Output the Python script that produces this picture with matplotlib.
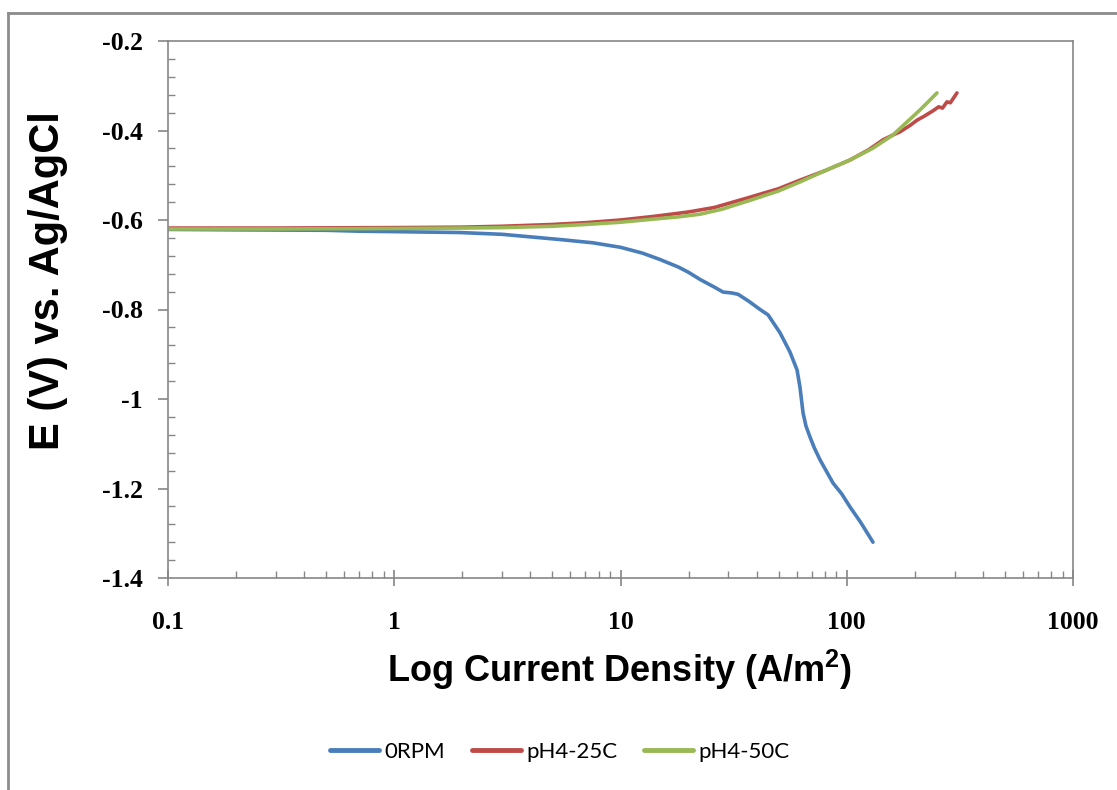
import matplotlib
matplotlib.use("Agg")
import matplotlib.pyplot as plt
from matplotlib.lines import Line2D
from matplotlib.ticker import LogLocator, MultipleLocator, FixedLocator, FuncFormatter

# ---- data ----
labels = ["0RPM", "pH4-25C", "pH4-50C"]

x_0rpm = [0.1, 0.2, 0.5, 0.7, 1.0, 1.95, 3.0, 3.86, 5.5, 7.56, 10, 12.5, 14.9, 18,
          20, 22.5, 26, 28.4, 31, 33.1, 37, 41.4, 44.9, 50.7, 56.1, 60.3, 62.1, 64.1,
          66, 68.8, 72, 76.2, 81, 87.0, 95, 103.3, 115, 130.6]
y_0rpm = [-0.621, -0.622, -0.623, -0.625, -0.626, -0.628, -0.632, -0.637, -0.644,
          -0.651, -0.661, -0.674, -0.688, -0.705, -0.717, -0.733, -0.750, -0.761,
          -0.763, -0.766, -0.782, -0.800, -0.812, -0.852, -0.895, -0.935, -0.973,
          -1.031, -1.06, -1.085, -1.11, -1.136, -1.16, -1.188, -1.212, -1.241,
          -1.275, -1.320]

x_25c = [0.1, 0.3, 1, 2, 3, 5, 7, 10, 14, 20, 26, 37.4, 50, 62.1, 80, 103.3, 125,
         144.5, 160, 171.9, 190, 204.4, 220, 240.4, 255, 265, 277.3, 287, 307]
y_25c = [-0.618, -0.618, -0.617, -0.616, -0.614, -0.610, -0.606, -0.600, -0.592,
         -0.582, -0.572, -0.549, -0.530, -0.511, -0.490, -0.466, -0.443, -0.421,
         -0.410, -0.403, -0.389, -0.377, -0.368, -0.356, -0.347, -0.350, -0.336,
         -0.338, -0.316]

x_50c = [0.1, 0.3, 1, 2, 3, 5, 7, 10, 14, 18, 22.5, 28, 37.4, 50, 62.1, 80, 103.3,
         130, 160, 184.6, 210.8, 230, 250.5]
y_50c = [-0.620, -0.620, -0.619, -0.618, -0.617, -0.614, -0.610, -0.605, -0.598,
         -0.593, -0.587, -0.576, -0.556, -0.535, -0.515, -0.490, -0.466, -0.440,
         -0.410, -0.381, -0.354, -0.335, -0.316]

x_ticks = [0.1, 1, 10, 100, 1000]
x_ticklabels = ["0.1", "1", "10", "100", "1000"]
y_ticks = [-1.4, -1.2, -1.0, -0.8, -0.6, -0.4, -0.2]
y_ticklabels = ["-1.4", "-1.2", "-1", "-0.8", "-0.6", "-0.4", "-0.2"]

colors = ["#4A7EBB", "#BE4B48", "#98B954"]
gray = "#868686"

fig = plt.figure(figsize=(11.17, 7.90), dpi=100)
ax = fig.add_axes([168/1117, 1-578/790, (1073-168)/1117, (578-41)/790])

for xs, ys, c, lab in [(x_0rpm, y_0rpm, colors[0], labels[0]),
                       (x_25c, y_25c, colors[1], labels[1]),
                       (x_50c, y_50c, colors[2], labels[2])]:
    ax.plot(xs, ys, color=c, lw=2.6, label=lab, solid_capstyle="round",
            solid_joinstyle="round")

ax.set_xscale("log")
ax.set_xlim(0.1, 1000)
ax.set_ylim(-1.4, -0.2)

ax.xaxis.set_major_locator(FixedLocator(x_ticks))
ax.set_xticklabels(x_ticklabels)
ax.xaxis.set_minor_locator(LogLocator(base=10, subs=range(2, 10), numticks=20))
ax.xaxis.set_minor_formatter(FuncFormatter(lambda v, p: ""))
ax.yaxis.set_major_locator(FixedLocator(y_ticks))
ax.set_yticklabels(y_ticklabels)
ax.yaxis.set_minor_locator(MultipleLocator(0.04))

for s in ax.spines.values():
    s.set_color(gray)
    s.set_linewidth(1.2)

ax.tick_params(axis="x", which="major", direction="inout", length=11, width=1.2,
               color=gray, pad=18)
ax.tick_params(axis="x", which="minor", direction="in", length=5, width=1.0, color=gray)
ax.tick_params(axis="y", which="major", direction="out", length=7, width=1.2,
               color=gray, pad=11)
ax.tick_params(axis="y", which="minor", direction="in", length=5, width=1.0, color=gray)
for lab in ax.get_xticklabels() + ax.get_yticklabels():
    lab.set_fontfamily("Liberation Serif")
    lab.set_fontweight("bold")
    lab.set_fontsize(18.5)

fig.text(620/1117, 1-670/790, "Log Current Density (A/m$^\\mathregular{2}$)",
         ha="center", va="center", fontsize=26, fontweight="bold",
         family="Liberation Sans")
fig.text(48/1117, 1-281/790, "E (V) vs. Ag/AgCl", ha="center", va="center",
         rotation=90, fontsize=30, fontweight="bold", family="Liberation Sans")

leg = fig.legend(loc="center", bbox_to_anchor=(560/1117, 1-752/790), ncol=3,
                 frameon=False, prop=dict(family="Lato", size=16),
                 handlelength=2.2, columnspacing=1.2, handletextpad=0.25)
for h in leg.get_lines():
    h.set_linewidth(3.5)

# outer chart border (partially cropped)
fig.add_artist(Line2D([8/1117, 8/1117], [0, 1-13/790], transform=fig.transFigure,
                      color="#8c8c8c", lw=2))
fig.add_artist(Line2D([8/1117, 1], [1-13/790, 1-13/790], transform=fig.transFigure,
                      color="#8c8c8c", lw=2))

fig.savefig("out.png", dpi=100)
